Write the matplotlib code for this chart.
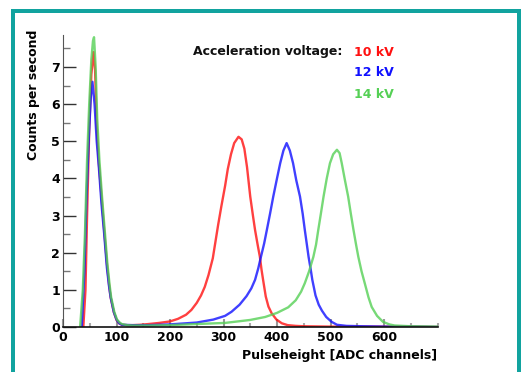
import matplotlib
matplotlib.use("Agg")
import matplotlib.pyplot as plt
from matplotlib.lines import Line2D
from matplotlib.ticker import MultipleLocator

# ---- data ----
red_x = [38, 42, 45, 49, 53, 57, 60, 63, 67, 72, 77, 82, 86, 89, 95, 100, 105, 110, 120, 130,
         145, 160, 180, 200, 215, 230, 240, 250, 258, 265, 272, 280, 285, 290, 296, 303, 308,
         314, 320, 328, 334, 339, 344, 350, 355, 359, 364, 368, 371, 374, 379, 384, 390, 399,
         409, 420, 435, 450, 500, 550, 600, 650, 700]
red_y = [0.0, 1.0, 3.0, 5.3, 6.8, 7.4, 6.9, 5.4, 4.4, 3.5, 2.6, 1.72, 1.15, 0.8, 0.4, 0.19,
         0.1, 0.06, 0.05, 0.05, 0.06, 0.08, 0.11, 0.15, 0.22, 0.33, 0.46, 0.65, 0.85, 1.08,
         1.4, 1.85, 2.3, 2.75, 3.25, 3.8, 4.25, 4.65, 4.95, 5.12, 5.05, 4.8, 4.3, 3.51, 3.0,
         2.61, 2.2, 1.89, 1.55, 1.27, 0.82, 0.55, 0.37, 0.2, 0.1, 0.05, 0.03, 0.02, 0.01,
         0.01, 0.01, 0.01, 0.0]

blue_x = [35, 40, 44, 48, 52, 55, 59, 63, 67, 72, 77, 82, 86, 89, 95, 100, 105, 110, 130, 160,
          200, 250, 281, 303, 315, 330, 343, 352, 359, 365, 370, 376, 381, 387, 393, 400, 406,
          412, 418, 424, 430, 436, 443, 448, 452, 456, 459, 463, 466, 472, 478, 484, 492, 502,
          512, 530, 560, 600, 650, 700]
blue_y = [0.0, 1.5, 3.5, 5.0, 6.2, 6.6, 6.0, 5.0, 4.3, 3.3, 2.5, 1.6, 1.1, 0.8, 0.4, 0.2,
          0.1, 0.06, 0.05, 0.05, 0.07, 0.12, 0.2, 0.3, 0.41, 0.6, 0.83, 1.04, 1.27, 1.58, 1.89,
          2.25, 2.61, 3.05, 3.51, 4.0, 4.41, 4.75, 4.95, 4.75, 4.41, 3.95, 3.51, 3.05, 2.61,
          2.2, 1.89, 1.55, 1.27, 0.85, 0.6, 0.44, 0.27, 0.14, 0.06, 0.03, 0.02, 0.01, 0.01, 0.0]

green_x = [32, 37, 41, 45, 49, 53, 56, 58, 61, 64, 68, 73, 78, 83, 87, 90, 96, 101, 106, 110,
           120, 130, 160, 200, 250, 303, 350, 378, 400, 421, 435, 445, 452, 460, 468, 473, 477,
           482, 487, 493, 499, 505, 512, 517, 521, 527, 533, 538, 543, 548, 552, 558, 564, 571,
           577, 587, 598, 610, 620, 650, 700]
green_y = [0.0, 1.0, 2.5, 4.5, 6.0, 7.2, 7.7, 7.8, 7.0, 5.6, 4.5, 3.5, 2.6, 1.7, 1.15, 0.8,
           0.4, 0.2, 0.12, 0.08, 0.05, 0.04, 0.04, 0.05, 0.08, 0.11, 0.19, 0.27, 0.38, 0.53,
           0.72, 0.95, 1.18, 1.5, 1.89, 2.22, 2.6, 3.05, 3.51, 4.0, 4.41, 4.65, 4.77, 4.68,
           4.41, 3.95, 3.51, 3.05, 2.61, 2.2, 1.89, 1.5, 1.18, 0.8, 0.54, 0.3, 0.14, 0.07, 0.04,
           0.02, 0.01]

series_labels = ["10 kV", "12 kV", "14 kV"]
series_colors = ["#ff1010", "#1010ff", "#55d055"]
x_ticks = [0, 100, 200, 300, 400, 500, 600]

plt.rcParams['font.family'] = ['DejaVu Sans']
plt.rcParams['font.weight'] = 'bold'

fig = plt.figure(figsize=(5.22, 3.72), dpi=100)
ax = fig.add_axes([63 / 522, 1 - 327 / 372, (437.5 - 63) / 522, (327 - 35) / 372])

for xs, ys, c in zip([red_x, blue_x, green_x], [red_y, blue_y, green_y], series_colors):
    ax.plot(xs, ys, color=c, lw=1.7, alpha=0.8, solid_joinstyle='round')

ax.set_xlim(0, 700)
ax.set_ylim(0, 7.86)
ax.spines['top'].set_visible(False)
ax.spines['right'].set_visible(False)
ax.spines['left'].set_color('#555555')
ax.spines['bottom'].set_color('#111111')
ax.spines['bottom'].set_linewidth(1.2)

ax.xaxis.set_minor_locator(MultipleLocator(50))
ax.yaxis.set_major_locator(MultipleLocator(1))
ax.yaxis.set_minor_locator(MultipleLocator(0.5))
ax.set_xticks(x_ticks)
ax.tick_params(axis='y', which='major', direction='in', length=9, width=1, color='#333333',
               labelsize=9, pad=2)
ax.tick_params(axis='y', which='minor', direction='in', length=5, width=1, color='#777777')
ax.tick_params(axis='x', which='major', direction='in', length=6, width=1.5, color='#999999',
               labelsize=9, pad=3)
ax.tick_params(axis='x', which='minor', direction='in', length=3, width=1.5, color='#aaaaaa')
for lab in ax.get_xticklabels() + ax.get_yticklabels():
    lab.set_fontweight('bold')

ax.set_ylabel("Counts per second", fontsize=9, fontweight='bold')
ax.yaxis.set_label_coords(-0.062, 0.795)
ax.set_xlabel("Pulseheight [ADC channels]", fontsize=9, fontweight='bold', ha='right')
ax.xaxis.set_label_coords(1.0, -0.075)

# annotation text
fig.text(193 / 522, 1 - 52 / 372, "Acceleration voltage:", fontsize=9, fontweight='bold',
         color='#111111', va='center', ha='left')
ys_txt = [52, 73, 95]
for lab, c, yy in zip(series_labels, series_colors, ys_txt):
    fig.text(354 / 522, 1 - yy / 372, lab, fontsize=9, fontweight='bold', color=c,
             va='center', ha='left')

# teal frame
fc = '#11a39f'
lw = 4 * 72 / 100
fig.add_artist(Line2D([12.5 / 522, 12.5 / 522], [-0.05, 1 - 11 / 372], color=fc, lw=lw,
                      transform=fig.transFigure, solid_capstyle='projecting'))
fig.add_artist(Line2D([12.5 / 522, 518.5 / 522], [1 - 11 / 372, 1 - 11 / 372], color=fc, lw=lw,
                      transform=fig.transFigure, solid_capstyle='projecting'))
fig.add_artist(Line2D([518.5 / 522, 518.5 / 522], [-0.05, 1 - 11 / 372], color=fc, lw=lw,
                      transform=fig.transFigure, solid_capstyle='projecting'))

fig.savefig("out.png", dpi=100)
